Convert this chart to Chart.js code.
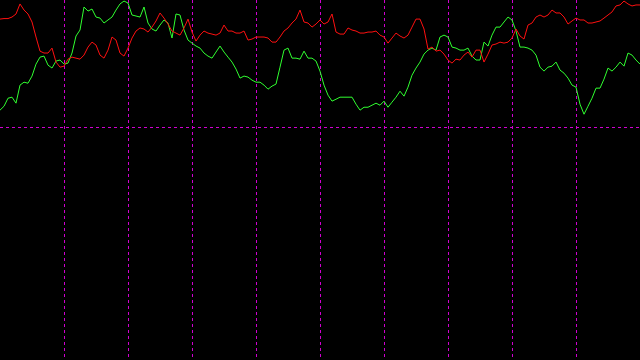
<!DOCTYPE html>
<html lang="en">

<head>
    <meta charset="UTF-8">
    <meta name="viewport" content="width=device-width, initial-scale=1.0">
    <script src="https://cdn.jsdelivr.net/npm/chart.js"></script>
    <title>Oscilador</title>
    <style>
        html, body { margin: 0; padding: 0; background: #000; }
        #box { width: 640px; height: 360px; }
    </style>
</head>

<body>
    <div id="box">
        <canvas id="grafico"></canvas>
    </div>
</body>

</html>
<script>
    // 161 periods, one vertical guide every 16 periods
    const periodos = Array.from({ length: 161 }, (_, i) => i);
    const passoGrade = 16;

    const linhaVermelha = [
        85.0, 85.4, 85.4, 86.6, 89.0, 96.9, 92.1, 89.0, 82.7, 70.9,
        59.8, 58.3, 58.3, 62.2, 51.2, 47.2, 48.0, 53.5, 55.1, 54.3,
        53.5, 56.7, 63.0, 66.9, 64.6, 56.7, 54.3, 60.6, 70.9, 68.5,
        58.3, 55.9, 62.2, 70.1, 75.6, 78.0, 77.2, 74.8, 78.7, 83.5,
        89.8, 85.8, 81.1, 75.6, 74.0, 72.4, 78.0, 85.0, 74.8, 67.7,
        72.4, 75.6, 74.0, 73.2, 72.4, 74.0, 80.3, 75.6, 75.6, 74.0,
        74.0, 75.6, 68.5, 69.3, 70.9, 70.9, 70.9, 70.1, 66.9, 66.9,
        70.9, 75.6, 78.0, 81.9, 85.0, 92.1, 82.7, 81.9, 78.7, 81.1,
        84.3, 81.1, 82.7, 89.0, 74.8, 73.2, 73.2, 78.0, 76.4, 75.6,
        74.0, 74.0, 74.8, 74.8, 75.6, 72.4, 70.9, 66.1, 70.1, 74.0,
        71.7, 70.1, 72.4, 78.7, 85.0, 85.0, 77.2, 61.4, 63.0, 59.8,
        60.6, 57.5, 52.8, 50.4, 53.5, 52.8, 56.7, 59.1, 55.1, 60.6,
        60.6, 51.2, 57.5, 64.6, 65.4, 66.9, 66.1, 66.9, 70.1, 77.2,
        71.7, 69.3, 80.3, 81.9, 86.6, 88.2, 86.6, 88.2, 92.1, 89.8,
        89.8, 86.6, 81.1, 83.5, 85.8, 84.3, 84.3, 81.9, 81.9, 82.7,
        83.5, 85.8, 88.2, 90.6, 95.3, 96.1, 99.2, 96.9, 95.3, 96.1,
        96.1
    ];

    const linhaVerde = [
        13.4, 16.5, 22.8, 23.6, 18.9, 33.1, 35.4, 34.6, 40.2, 49.6,
        55.1, 55.9, 48.8, 46.5, 52.0, 52.8, 49.6, 50.4, 58.3, 71.7,
        76.4, 94.5, 91.3, 92.9, 86.6, 85.8, 81.9, 84.3, 86.6, 92.1,
        96.9, 99.2, 97.6, 88.2, 87.4, 86.6, 94.5, 81.9, 77.2, 75.6,
        80.3, 84.3, 81.9, 70.1, 89.0, 88.2, 76.4, 68.5, 66.1, 63.8,
        62.2, 58.3, 55.9, 54.3, 59.1, 63.8, 59.1, 55.1, 51.2, 45.7,
        38.6, 40.2, 39.4, 37.0, 35.4, 35.4, 33.1, 29.9, 32.3, 33.9,
        47.2, 60.6, 62.2, 54.3, 54.3, 53.5, 59.8, 54.3, 54.3, 52.0,
        44.1, 33.1, 25.2, 20.5, 22.0, 23.6, 23.6, 23.6, 23.6, 18.1,
        13.4, 15.7, 15.7, 17.3, 18.9, 17.3, 20.5, 15.7, 19.7, 23.6,
        28.3, 24.4, 31.5, 40.9, 46.5, 51.2, 57.5, 60.6, 62.2, 60.6,
        70.9, 72.4, 70.9, 63.0, 62.2, 60.6, 60.6, 62.2, 55.9, 52.8,
        52.8, 66.9, 63.8, 72.4, 78.7, 78.7, 82.7, 86.6, 84.3, 75.6,
        63.0, 63.0, 62.2, 60.6, 56.7, 47.2, 44.1, 47.2, 48.0, 51.2,
        44.9, 42.5, 38.6, 33.1, 31.5, 18.1, 10.2, 16.5, 22.8, 30.7,
        30.7, 37.8, 46.5, 44.1, 47.2, 51.2, 48.0, 58.3, 56.7, 52.8,
        49.6
    ];

    // y range: 100 at the top edge, the only horizontal guide at 0
    const yMax = 100;
    const yMin = -183;
    const linhasHorizontais = [0];

    const corGrade = '#d000d0';

    window.onload = function () {
        const ctx = document.getElementById('grafico').getContext('2d');

        new Chart(ctx, {
            type: 'line',
            data: {
                labels: periodos,
                datasets: [
                    {
                        label: 'Vermelha',
                        data: linhaVermelha,
                        borderColor: '#ff1010',
                        borderWidth: 1,
                        pointRadius: 0,
                        tension: 0
                    },
                    {
                        label: 'Verde',
                        data: linhaVerde,
                        borderColor: '#30ff30',
                        borderWidth: 1,
                        pointRadius: 0,
                        tension: 0
                    }
                ]
            },
            options: {
                responsive: true,
                maintainAspectRatio: false,
                animation: false,
                layout: { padding: 0 },
                plugins: {
                    legend: { display: false },
                    tooltip: { enabled: false }
                },
                scales: {
                    x: {
                        ticks: { display: false, autoSkip: false },
                        border: { display: false, dash: [3, 3] },
                        grid: {
                            drawTicks: false,
                            tickLength: 0,
                            lineWidth: 1,
                            color: c => (c.index > 0 && c.index < periodos.length - 1 && c.index % passoGrade === 0) ? corGrade : 'transparent'
                        }
                    },
                    y: {
                        min: yMin,
                        max: yMax,
                        afterBuildTicks: scale => {
                            scale.ticks = linhasHorizontais.map(v => ({ value: v }));
                        },
                        ticks: { display: false },
                        border: { display: false, dash: [3, 3] },
                        grid: {
                            drawTicks: false,
                            tickLength: 0,
                            lineWidth: 1,
                            color: c => corGrade
                        }
                    }
                }
            }
        });
    };
</script>
